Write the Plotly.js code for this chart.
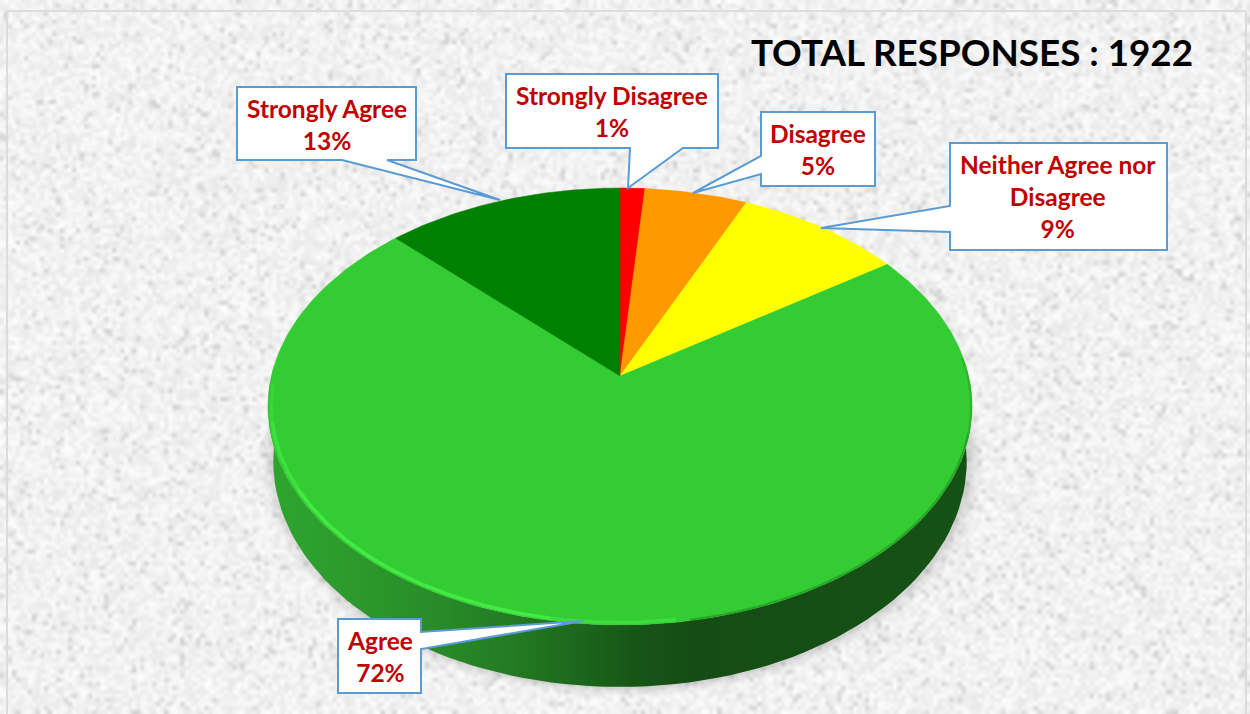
<!DOCTYPE html>
<html>
<head>
<meta charset="utf-8">
<script src="https://cdn.plot.ly/plotly-3.0.1.min.js"></script>
<style>html,body{margin:0;padding:0;background:#efefef;overflow:hidden}#chart{width:1250px;height:714px}</style>
</head>
<body>
<div id="chart"></div>
<script>
// ---------- data ----------
const categories = ['Strongly Disagree', 'Disagree', 'Neither Agree nor Disagree', 'Agree', 'Strongly Agree'];
const percentages = [1.3, 5.4, 8.8, 72.0, 12.5];
const sliceColors = ['#ff0000', '#ff9900', '#ffff00', '#33cc33', '#008000'];
const totalResponses = 1922;

// ---------- view geometry of the tilted disc (axis units equal screen pixels) ----------
const APEX = {x: 620, y: 376}, TILT = 0.1396, SPREAD_X = 348.6, SPREAD_Y = 214.2;
const RIM_C = {y: 406.5, rx: 352, ry: 218.5};
const FLOOR = {y: 461, rx: 346.7, ry: 226};

function rim(deg, inset) {
  const a = deg * Math.PI / 180, s = Math.sin(a), c = Math.cos(a), w = 1 + TILT * c, f = inset || 1;
  return {x: APEX.x + f * SPREAD_X * s / w, y: APEX.y - f * SPREAD_Y * c / w};
}
function floorPoint(deg) {
  const p = rim(deg);
  return {x: APEX.x + (p.x - APEX.x) * FLOOR.rx / RIM_C.rx, y: FLOOR.y + (p.y - RIM_C.y) * FLOOR.ry / RIM_C.ry};
}
function arcDegrees(a, b, step) {
  const out = [], n = Math.max(2, Math.ceil(Math.abs(b - a) / step));
  for (let i = 0; i <= n; i++) out.push(a + (b - a) * i / n);
  return out;
}
const base = {mode: 'lines', hoverinfo: 'skip', showlegend: false, line: {width: 0}};
const traces = [];

// soft shadow below the disc
[[1.045, 0.018], [1.035, 0.022], [1.025, 0.03], [1.016, 0.04], [1.008, 0.05]].forEach(([g, alpha]) => {
  const d = arcDegrees(0, 360, 3);
  traces.push(Object.assign({}, base, {
    x: d.map(t => APEX.x + (floorPoint(t).x - APEX.x) * g + 2),
    y: d.map(t => FLOOR.y + (floorPoint(t).y - FLOOR.y) * g),
    fill: 'toself', fillcolor: `rgba(60,60,60,${alpha})`
  }));
});

// side wall with horizontal shading
const wallDeg = arcDegrees(88, 272, 2);
const wallPts = wallDeg.map(t => rim(t)).concat(wallDeg.slice().reverse().map(t => floorPoint(t)));
traces.push(Object.assign({}, base, {
  x: wallPts.map(p => p.x), y: wallPts.map(p => p.y), fill: 'toself',
  fillgradient: {type: 'horizontal', colorscale: [
    [0, '#2ea52e'], [0.1, '#2c9c2c'], [0.25, '#288a28'], [0.35, '#237a23'],
    [0.45, '#1c651c'], [0.52, '#175517'], [0.6, '#154c15'], [1, '#155215']
  ]}
}));

// top slices: each wedge spans its share of the full turn
let cumulative = 0;
const totalShare = percentages.reduce((a, b) => a + b, 0);
percentages.forEach((v, i) => {
  const a0 = cumulative / totalShare * 360, a1 = (cumulative + v) / totalShare * 360;
  cumulative += v;
  const pts = [APEX].concat(arcDegrees(a0, a1, 1).map(t => rim(t)), [APEX]);
  traces.push(Object.assign({}, base, {
    name: categories[i], x: pts.map(p => p.x), y: pts.map(p => p.y),
    fill: 'toself', fillcolor: sliceColors[i], line: {width: 0.5, color: sliceColors[i]}
  }));
});

// bevel: bright edge lower-left, dark edge lower-right
[[172, 190, 0.55], [190, 240, 0.95], [240, 258, 0.7], [258, 268, 0.35]].forEach(([a, b, o]) => {
  const p = arcDegrees(a, b, 1).map(t => rim(t, 0.99));
  traces.push(Object.assign({}, base, {
    x: p.map(q => q.x), y: p.map(q => q.y), opacity: o, line: {width: 3.5, color: '#42ec42'}
  }));
});
[[85, 105, 0.5], [105, 170, 0.9]].forEach(([a, b, o]) => {
  const p = arcDegrees(a, b, 1).map(t => rim(t, 0.997));
  traces.push(Object.assign({}, base, {
    x: p.map(q => q.x), y: p.map(q => q.y), opacity: o, line: {width: 2, color: '#27a027'}
  }));
});

// ---------- callouts ----------
function calloutPath(c) {
  return 'M' + c.outline.map(p => p.join(',')).join(' L') + ' Z';
}
const callouts = [
  {i: 4, cx: 326.5, cy: 124, outline: [[237,87],[416,87],[416,160],[387,160],[500,200],[342,160],[237,160]]},
  {i: 0, cx: 612, cy: 111, outline: [[506,74],[718,74],[718,148],[683,148],[628,188],[630,148],[506,148]]},
  {i: 1, cx: 818, cy: 149.5, outline: [[761,112],[875,112],[875,186],[761,186],[761,174],[693,193],[761,156]]},
  {i: 2, cx: 1058, cy: 196, lines: ['Neither Agree nor', 'Disagree'], outline: [[950,143],[1167,143],[1167,250],[950,250],[950,232],[821,228],[950,206]]},
  {i: 3, cx: 379.5, cy: 656.5, outline: [[338,619],[421,619],[421,632],[583,621],[421,649],[421,693],[338,693]]}
];

const shapes = [
  {type: 'path', xref: 'x', yref: 'y', layer: 'below', path: 'M7,800 L7,11 L1246,11 L1246,800', line: {color: '#dcdcdc', width: 2}, fillcolor: 'rgba(0,0,0,0)'}
].concat(callouts.map(c => ({
  type: 'path', xref: 'x', yref: 'y', layer: 'above', path: calloutPath(c),
  fillcolor: '#ffffff', line: {color: '#5b9bd5', width: 2}
})));

const annotations = callouts.map(c => {
  const names = c.lines || [categories[c.i]];
  return {
    xref: 'x', yref: 'y', x: c.cx, y: c.cy, xanchor: 'center', yanchor: 'middle', showarrow: false, align: 'center',
    text: names.join('<br>') + '<br>' + Math.round(percentages[c.i]) + '%',
    font: {family: 'Lato, Carlito, sans-serif', size: 24.5, color: '#c00000', weight: 700}
  };
});

// ---------- paper texture (deterministic speckle, decorative only) ----------
function paperTexture() {
  const W = 312, H = 178, small = document.createElement('canvas');
  small.width = W; small.height = H;
  const sc = small.getContext('2d'), img = sc.createImageData(W, H);
  let seed = 20240611;
  const next = () => { seed = (Math.imul(seed, 1664525) + 1013904223) >>> 0; return (seed >>> 8) / 16777216; };
  for (let i = 0; i < W * H; i++) {
    const n = next();
    let v = 230 + n * 22;
    if (n < 0.06) v = 208 + n * 220;
    img.data[i * 4] = img.data[i * 4 + 1] = img.data[i * 4 + 2] = v;
    img.data[i * 4 + 3] = 255;
  }
  sc.putImageData(img, 0, 0);
  const big = document.createElement('canvas');
  big.width = 1250; big.height = 714;
  const bc = big.getContext('2d');
  bc.imageSmoothingEnabled = true;
  bc.imageSmoothingQuality = 'high';
  bc.drawImage(small, 0, 0, 1250, 714);
  return big.toDataURL('image/png');
}

const layout = {
  width: 1250, height: 714, margin: {l: 0, r: 0, t: 0, b: 0},
  paper_bgcolor: '#efefef', plot_bgcolor: 'rgba(0,0,0,0)', showlegend: false,
  title: {
    text: 'TOTAL RESPONSES : ' + totalResponses, x: 972 / 1250, y: 1 - 53 / 714, xanchor: 'center', yanchor: 'middle',
    font: {family: 'Lato, Carlito, sans-serif', size: 36.8, color: '#000000', weight: 700}
  },
  xaxis: {range: [0, 1250], visible: false, fixedrange: true},
  yaxis: {range: [714, 0], visible: false, fixedrange: true},
  images: [{source: paperTexture(), xref: 'paper', yref: 'paper', x: 0, y: 1, sizex: 1, sizey: 1, sizing: 'stretch', layer: 'below', xanchor: 'left', yanchor: 'top'}],
  shapes: shapes, annotations: annotations
};
Plotly.newPlot('chart', traces, layout, {displayModeBar: false, staticPlot: true});
</script>
</body>
</html>
